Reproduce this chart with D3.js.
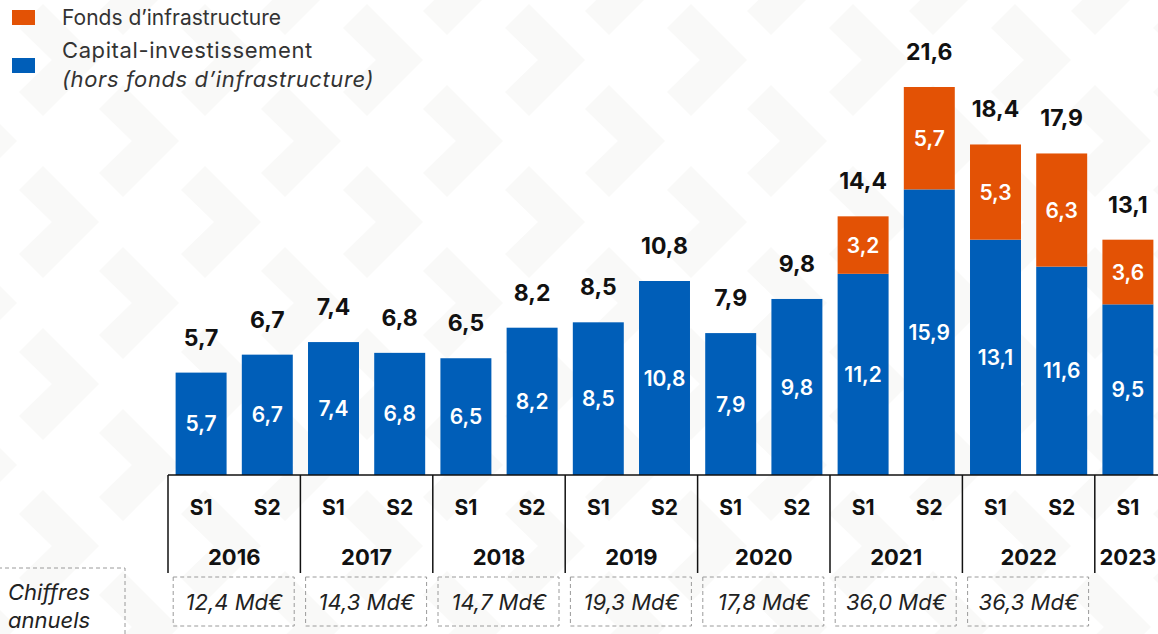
<!DOCTYPE html>
<html>
<head>
<meta charset="utf-8">
<script src="https://cdn.jsdelivr.net/npm/d3@7"></script>
<style>
  body { margin: 0; background: #fff; }
  svg { display: block; font-family: Inter, "Noto Sans", sans-serif; }
</style>
</head>
<body>
<div class="visualization"></div>
<script>
// data
const semesters = ["S1","S2","S1","S2","S1","S2","S1","S2","S1","S2","S1","S2","S1","S2","S1"];
const barYears = [2016,2016,2017,2017,2018,2018,2019,2019,2020,2020,2021,2021,2022,2022,2023];
const capitalInv = [5.7, 6.7, 7.4, 6.8, 6.5, 8.2, 8.5, 10.8, 7.9, 9.8, 11.2, 15.9, 13.1, 11.6, 9.5];
const infraFunds = [0, 0, 0, 0, 0, 0, 0, 0, 0, 0, 3.2, 5.7, 5.3, 6.3, 3.6];
const totals = [5.7, 6.7, 7.4, 6.8, 6.5, 8.2, 8.5, 10.8, 7.9, 9.8, 14.4, 21.6, 18.4, 17.9, 13.1];
const years = [2016, 2017, 2018, 2019, 2020, 2021, 2022, 2023];
const annualLabels = ["12,4 Md€", "14,3 Md€", "14,7 Md€", "19,3 Md€", "17,8 Md€", "36,0 Md€", "36,3 Md€", null];

const width = 1158;
const height = 634;
const baseline = 475;
const blue = "#005eb8";
const orange = "#e35205";

const fmt = v => d3.format(".1f")(v).replace(".", ",");

const svg = d3.select(".visualization").append("svg")
  .attr("width", width)
  .attr("height", height);

// background chevrons
const bg = svg.append("g").attr("fill", "#f9f9f8");
for (let r = -1; r < 9; r++) {
  for (let k = -1; k < 9; k++) {
    const tx = 99 + 162 * k + (Math.abs(r) % 2 === 1 ? 80 : 0);
    const ty = 60 + 81 * r;
    const pts = [[tx - 56, ty - 56], [tx, ty], [tx - 56, ty + 56], [tx - 80, ty + 32], [tx - 47, ty], [tx - 80, ty - 32]];
    bg.append("polygon").attr("points", pts.map(p => p.join(",")).join(" "));
  }
}

const x = d3.scaleBand()
  .domain(d3.range(semesters.length))
  .range([168, 168 + 66.2 * 15])
  .paddingInner(0.23)
  .paddingOuter(0.115);

const y = d3.scaleLinear().domain([0, 21.6]).range([baseline, 87]);

const bw = x.bandwidth();
const gap = (x.step() - bw) / 2;

// bars
const bars = svg.append("g");
bars.selectAll("rect.ci")
  .data(capitalInv)
  .enter().append("rect")
  .attr("class", "ci")
  .attr("x", (d, i) => x(i))
  .attr("y", d => y(d))
  .attr("width", bw)
  .attr("height", d => baseline - y(d))
  .attr("fill", blue);

infraFunds.forEach((d, i) => {
  if (d <= 0) return;
  bars.append("rect")
    .attr("x", x(i))
    .attr("y", y(capitalInv[i] + d))
    .attr("width", bw)
    .attr("height", y(capitalInv[i]) - y(capitalInv[i] + d))
    .attr("fill", orange);
});

// labels inside bars
const inner = svg.append("g")
  .attr("fill", "#fff")
  .attr("font-size", 21)
  .attr("font-weight", 600)
  .attr("text-anchor", "middle");

capitalInv.forEach((d, i) => {
  inner.append("text")
    .attr("x", x(i) + bw / 2)
    .attr("y", (y(d) + baseline) / 2)
    .attr("dy", "0.36em")
    .text(fmt(d));
  if (infraFunds[i] > 0) {
    inner.append("text")
      .attr("x", x(i) + bw / 2)
      .attr("y", (y(d) + y(d + infraFunds[i])) / 2)
      .attr("dy", "0.36em")
      .text(fmt(infraFunds[i]));
  }
});

// totals
svg.append("g")
  .attr("font-size", 23)
  .attr("font-weight", 700)
  .attr("fill", "#111")
  .attr("text-anchor", "middle")
  .selectAll("text")
  .data(totals)
  .enter().append("text")
  .attr("x", (d, i) => x(i) + bw / 2)
  .attr("y", d => y(d) - 27)
  .text(d => fmt(d));

// axis table
const axis = svg.append("g").attr("stroke", "#111").attr("stroke-width", 1.5);
axis.append("line")
  .attr("x1", x(0) - gap).attr("x2", width)
  .attr("y1", baseline).attr("y2", baseline);

years.forEach((yr, k) => {
  const xs = x(2 * k) - gap;
  axis.append("line")
    .attr("x1", xs).attr("x2", xs)
    .attr("y1", baseline).attr("y2", 573);
});

svg.append("g")
  .attr("font-size", 21)
  .attr("font-weight", 700)
  .attr("fill", "#111")
  .attr("text-anchor", "middle")
  .selectAll("text")
  .data(semesters)
  .enter().append("text")
  .attr("x", (d, i) => x(i) + bw / 2)
  .attr("y", 515)
  .text(d => d);

const yearG = svg.append("g")
  .attr("font-size", 22)
  .attr("font-weight", 700)
  .attr("fill", "#111")
  .attr("text-anchor", "middle");

years.forEach((yr, k) => {
  const idx = barYears.map((b, i) => b === yr ? i : -1).filter(i => i >= 0);
  const cx = d3.mean(idx, i => x(i) + bw / 2);
  yearG.append("text").attr("x", cx).attr("y", 565).text(yr);
});

// annual figures
const annual = svg.append("g");
annualLabels.forEach((lab, k) => {
  if (!lab) return;
  const cx = x(2 * k) + x.step() - gap;
  annual.append("rect")
    .attr("x", cx - 61).attr("y", 577)
    .attr("width", 121).attr("height", 49)
    .attr("fill", "none")
    .attr("stroke", "#9a9a9a")
    .attr("stroke-dasharray", "4,3");
  annual.append("text")
    .attr("x", cx).attr("y", 602)
    .attr("dy", "0.35em")
    .attr("text-anchor", "middle")
    .attr("font-size", 22)
    .attr("font-style", "italic")
    .attr("fill", "#222")
    .text(lab);
});

annual.append("rect")
  .attr("x", -2).attr("y", 568)
  .attr("width", 127).attr("height", 80)
  .attr("fill", "none")
  .attr("stroke", "#9a9a9a")
  .attr("stroke-dasharray", "4,3");
annual.append("text")
  .attr("x", 8).attr("y", 600)
  .attr("font-size", 22).attr("font-style", "italic").attr("fill", "#222")
  .text("Chiffres");
annual.append("text")
  .attr("x", 8).attr("y", 628)
  .attr("font-size", 22).attr("font-style", "italic").attr("fill", "#222")
  .text("annuels");

// legend
const legend = svg.append("g").attr("font-size", 21).attr("fill", "#333");
legend.append("rect").attr("x", 12).attr("y", 10).attr("width", 23).attr("height", 15).attr("fill", orange);
legend.append("rect").attr("x", 12).attr("y", 58).attr("width", 23).attr("height", 15).attr("fill", blue);
legend.append("text").attr("x", 62).attr("y", 25).text("Fonds d\u2019infrastructure");
legend.append("text").attr("x", 62).attr("y", 58).attr("font-size", 22).attr("letter-spacing", 0.6).text("Capital-investissement");
legend.append("text").attr("x", 62).attr("y", 87).attr("font-size", 22).attr("font-style", "italic").attr("letter-spacing", 0.6).text("(hors fonds d\u2019infrastructure)");
</script>
</body>
</html>
